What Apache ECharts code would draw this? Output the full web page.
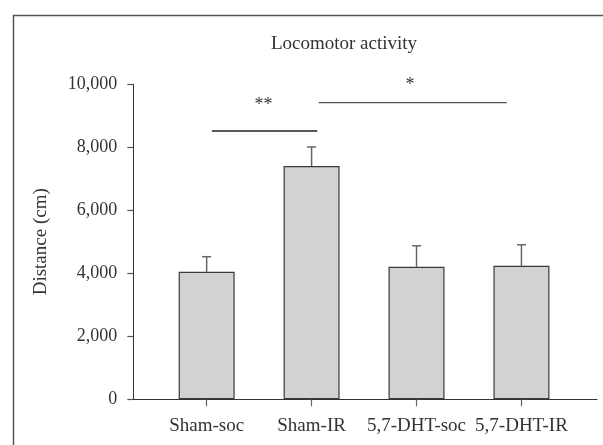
<!DOCTYPE html>
<html>
<head>
<meta charset="utf-8">
<script src="https://cdn.jsdelivr.net/npm/echarts@6/dist/echarts.min.js"></script>
<style>html,body{margin:0;padding:0;background:#fff}#c{width:603px;height:445px}</style>
</head>
<body>
<div id="c"></div>
<script>
const categories = ['Sham-soc', 'Sham-IR', '5,7-DHT-soc', '5,7-DHT-IR'];
const means = [4047, 7406, 4206, 4237];
const errors = [480, 604, 667, 668];
const yTicks = [0, 2000, 4000, 6000, 8000, 10000];
// significance brackets: [from position, to position, value, label position, label value, label]
const sigLines = [
  [0.05, 1.055, 8517, 0.542, 9320, '**'],
  [1.067, 2.861, 9416, 1.938, 9960, '*']
];

const font = 'Liberation Serif, Times New Roman, serif';
const textColor = '#333';
const chart = echarts.init(document.getElementById('c'), null, {renderer: 'canvas'});

const barData = means.map((v, i) => [i, v]);
const errData = means.map((v, i) => [i, v, v + errors[i]]);

chart.setOption({
  animation: false,
  backgroundColor: '#fff',
  title: {
    text: 'Locomotor activity',
    left: 339, top: 30, textAlign: 'center',
    textStyle: {fontFamily: font, fontSize: 19, fontWeight: 'normal', color: textColor}
  },
  graphic: [{
    type: 'rect', left: 11, top: 13, z: -1,
    shape: {width: 700, height: 600},
    style: {fill: 'none', stroke: '#555', lineWidth: 1.5}
  }],
  grid: {left: 133.3, right: 6, top: 84.3, bottom: 45.7},
  xAxis: {
    type: 'value', min: -0.699, max: 3.72,
    splitLine: {show: false},
    axisLine: {show: true, onZero: false, lineStyle: {color: '#333', width: 1}},
    axisTick: {show: true, customValues: [0, 1, 2, 3], length: 7, lineStyle: {color: '#666', width: 1.2}},
    axisLabel: {
      customValues: [0, 1, 2, 3],
      formatter: v => categories[Math.round(v)] || '',
      fontFamily: font, fontSize: 19, color: textColor, margin: 17
    }
  },
  yAxis: {
    type: 'value', min: 0, max: 10000, interval: 2000,
    name: 'Distance (cm)', nameLocation: 'middle', nameRotate: 90, nameGap: 83,
    nameTextStyle: {fontFamily: font, fontSize: 19, color: textColor},
    splitLine: {show: false},
    axisLine: {show: true, onZero: false, lineStyle: {color: '#333', width: 1}},
    axisTick: {show: true, length: 6, lineStyle: {color: '#555', width: 1.2}},
    axisLabel: {
      fontFamily: font, fontSize: 18, color: textColor, margin: 16,
      formatter: v => yTicks.includes(v) ? v.toLocaleString('en-US') : ''
    }
  },
  series: [
    {
      type: 'custom', z: 1,
      data: errData,
      renderItem: (params, api) => {
        const x = api.value(0);
        const top = api.coord([x, api.value(2)]);
        const base = api.coord([x, api.value(1)]);
        return {
          type: 'group',
          children: [
            {type: 'line', shape: {x1: top[0], y1: top[1], x2: base[0], y2: base[1]}, style: {stroke: '#666', lineWidth: 1.5}},
            {type: 'line', shape: {x1: top[0] - 4.5, y1: top[1], x2: top[0] + 4.5, y2: top[1]}, style: {stroke: '#666', lineWidth: 1.5}}
          ]
        };
      }
    },
    {
      type: 'bar', z: 2,
      data: barData,
      barWidth: 56,
      itemStyle: {color: '#d1d2d4', borderColor: '#3a3a3a', borderWidth: 1.2}
    },
    {
      type: 'custom', z: 3,
      data: sigLines,
      renderItem: (params, api) => {
        const a = api.coord([api.value(0), api.value(2)]);
        const b = api.coord([api.value(1), api.value(2)]);
        const t = api.coord([api.value(3), api.value(4)]);
        const label = sigLines[params.dataIndex][5];
        return {
          type: 'group',
          children: [
            {type: 'line', shape: {x1: a[0], y1: a[1], x2: b[0], y2: b[1]}, style: {stroke: params.dataIndex === 0 ? '#222' : '#555', lineWidth: 1.3}},
            {type: 'text', x: t[0], y: t[1], style: {text: label, fontFamily: font, fontSize: 18, fill: textColor, align: 'center', verticalAlign: 'middle'}}
          ]
        };
      }
    }
  ]
});
</script>
</body>
</html>
